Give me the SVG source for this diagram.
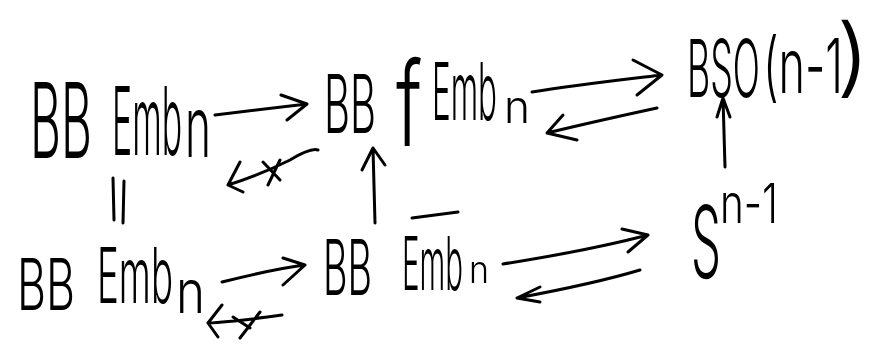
<svg xmlns="http://www.w3.org/2000/svg" width="889" height="350" viewBox="0 0 889 350">
  <style>
    .t { font-family: "Inter", "Lato", "Liberation Sans", sans-serif; font-weight: 300; fill: #000; filter: grayscale(1); }
    .c { fill: none; stroke: #000; stroke-width: 3; stroke-linecap: round; stroke-linejoin: round; }
  </style>
  <rect width="889" height="350" fill="#fff"/>

  <!-- top row -->
  <g id="bb-emb-top">
    <text class="t" x="30" y="158" font-size="105" textLength="62" lengthAdjust="spacingAndGlyphs">BB</text>
    <text class="t" x="112" y="155" font-size="95" textLength="70" lengthAdjust="spacingAndGlyphs">Emb</text>
    <text class="t" x="185" y="157" font-size="85" textLength="26" lengthAdjust="spacingAndGlyphs">n</text>
  </g>

  <g id="bb-femb">
    <text class="t" x="324" y="133" font-size="81" textLength="52" lengthAdjust="spacingAndGlyphs">BB</text>
    <text class="t" x="396" y="146" font-size="118" textLength="26" lengthAdjust="spacingAndGlyphs">f</text>
    <text class="t" x="432" y="120" font-size="80" textLength="65" lengthAdjust="spacingAndGlyphs">Emb</text>
    <text class="t" x="504" y="123" font-size="45" textLength="26" lengthAdjust="spacingAndGlyphs">n</text>
  </g>

  <g id="bso">
    <text class="t" x="687" y="97" font-size="80" textLength="73" lengthAdjust="spacingAndGlyphs">BSO</text>
    <text class="t" x="763" y="93" font-size="76" textLength="80" lengthAdjust="spacingAndGlyphs">(n-1</text>
    <text class="t" x="836" y="86" font-size="86" textLength="34" lengthAdjust="spacingAndGlyphs">)</text>
  </g>

  <!-- bottom row -->
  <g id="bb-emb-bottom">
    <text class="t" x="17" y="310" font-size="72" textLength="58" lengthAdjust="spacingAndGlyphs">BB</text>
    <text class="t" x="97" y="303" font-size="77" textLength="76" lengthAdjust="spacingAndGlyphs">Emb</text>
    <text class="t" x="176" y="313" font-size="60" textLength="29" lengthAdjust="spacingAndGlyphs">n</text>
  </g>

  <g id="bb-emb-bar">
    <text class="t" x="323" y="295" font-size="77" textLength="49" lengthAdjust="spacingAndGlyphs">BB</text>
    <text class="t" x="402" y="290" font-size="74" textLength="61" lengthAdjust="spacingAndGlyphs">Emb</text>
    <text class="t" x="469" y="283" font-size="38" textLength="20" lengthAdjust="spacingAndGlyphs">n</text>
    <path class="c" d="M412,218 L458,212"/>
  </g>

  <g id="sphere">
    <text class="t" x="691" y="278" font-size="100" textLength="30" lengthAdjust="spacingAndGlyphs">S</text>
    <text class="t" x="720" y="223" font-size="55" textLength="58" lengthAdjust="spacingAndGlyphs">n-1</text>
  </g>

  <!-- connectors -->
  <g id="connectors">
    <!-- BB Emb -> BB fEmb -->
    <path class="c" d="M215,115 L307,104 M281,95 L307,104 L287,120"/>
    <!-- no map back (crossed) -->
    <path class="c" d="M318,150 C312,148 300,154 290,160 C270,170 250,178 228,185 M240,162 L228,185 L243,192 M263,162 L280,180 M280,160 L268,185"/>
    <!-- BB fEmb <=> BSO(n-1) -->
    <path class="c" d="M532,92 C575,85 620,80 662,75 M633,60 L662,75 L637,95"/>
    <path class="c" d="M657,108 C620,116 580,125 547,133 M563,115 L547,133 L577,140"/>
    <!-- S^(n-1) -> BSO(n-1) -->
    <path class="c" d="M725,167 L723,98 M717,117 L723,98 L730,117"/>
    <!-- equality -->
    <path class="c" d="M113,178 L114,220 M124,181 L123,223"/>
    <!-- BB Emb-bar -> BB fEmb -->
    <path class="c" d="M375,223 L373,148 M362,170 L373,148 L385,165"/>
    <!-- bottom: BB Emb -> BB Emb-bar -->
    <path class="c" d="M222,282 C250,275 280,268 305,265 M283,258 L305,265 L283,285"/>
    <!-- no map back (crossed) -->
    <path class="c" d="M282,315 C260,318 230,322 208,323 M222,305 L208,323 L218,337 M260,312 L240,338 M233,317 L250,328"/>
    <!-- BB Emb-bar <=> S^(n-1) -->
    <path class="c" d="M503,264 C560,255 610,245 648,235 M622,229 L648,235 L628,252"/>
    <path class="c" d="M640,270 C600,282 560,290 517,298 M540,287 L517,298 L540,302"/>
  </g>
</svg>
